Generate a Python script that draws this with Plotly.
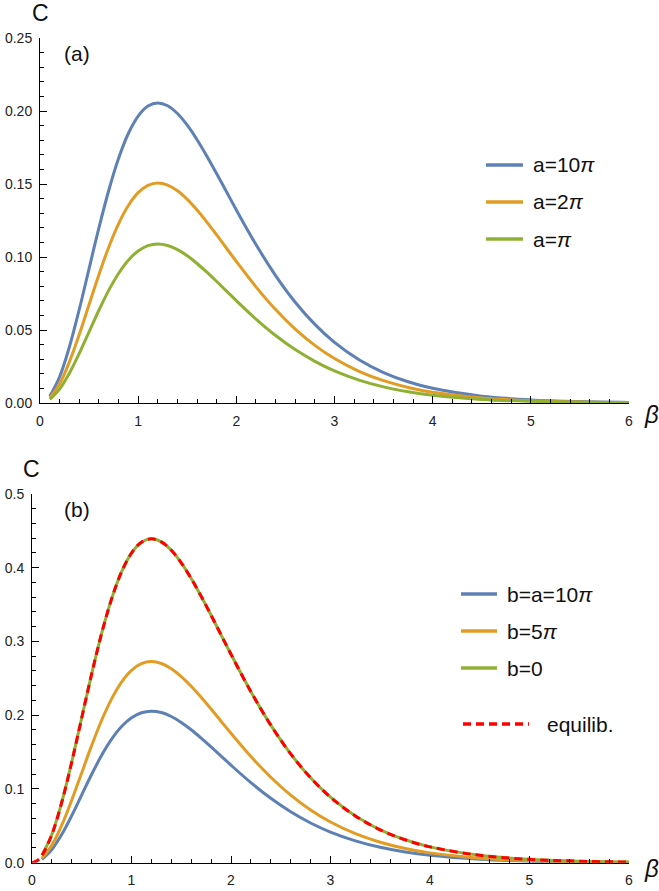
import plotly.graph_objects as go

# ---------------- data ----------------
beta = [0.1, 0.2, 0.3, 0.4, 0.5, 0.6, 0.7, 0.8, 0.9, 1.0,
        1.1, 1.2, 1.3, 1.4, 1.5, 1.6, 1.7, 1.8, 1.9, 2.0,
        2.2, 2.4, 2.6, 2.8, 3.0, 3.25, 3.5, 3.75, 4.0, 4.5, 5.0, 5.5, 6.0]

# panel (a)
c_a_10pi = [0.00463, 0.01799, 0.03854, 0.06407, 0.09201, 0.11989, 0.14556, 0.16745, 0.18458, 0.19655,
            0.20341, 0.20555, 0.20361, 0.19827, 0.19028, 0.18034, 0.16907, 0.15703, 0.14464, 0.13226,
            0.10856, 0.08730, 0.06905, 0.05387, 0.04155, 0.02964, 0.02087, 0.01455, 0.01004, 0.00468,
            0.00212, 0.00095, 0.00042]
c_a_2pi = [0.00340, 0.01318, 0.02825, 0.04696, 0.06744, 0.08787, 0.10668, 0.12273, 0.13528, 0.14405,
           0.14908, 0.15065, 0.14923, 0.14532, 0.13946, 0.13217, 0.12392, 0.11509, 0.10600, 0.09693,
           0.07956, 0.06398, 0.05061, 0.03948, 0.03045, 0.02172, 0.01530, 0.01066, 0.00736, 0.00343,
           0.00156, 0.00069, 0.00031]
c_a_pi = [0.00246, 0.00953, 0.02043, 0.03395, 0.04876, 0.06353, 0.07713, 0.08873, 0.09781, 0.10415,
          0.10779, 0.10893, 0.10789, 0.10507, 0.10083, 0.09556, 0.08960, 0.08321, 0.07664, 0.07008,
          0.05753, 0.04626, 0.03659, 0.02855, 0.02202, 0.01571, 0.01106, 0.00771, 0.00532, 0.00248,
          0.00113, 0.00050, 0.00022]

# panel (b)
c_b_10pi = c_a_10pi
c_b_5pi = [0.00615, 0.02387, 0.05115, 0.08501, 0.12209, 0.15908, 0.19314, 0.22219, 0.24493, 0.26080,
           0.26991, 0.27276, 0.27017, 0.26309, 0.25249, 0.23930, 0.22435, 0.20836, 0.19192, 0.17549,
           0.14405, 0.11584, 0.09162, 0.07148, 0.05514, 0.03933, 0.02770, 0.01930, 0.01333, 0.00620,
           0.00282, 0.00125, 0.00055]
c_b_0 = [0.00990, 0.03844, 0.08236, 0.13690, 0.19661, 0.25617, 0.31102, 0.35780, 0.39441, 0.41997,
         0.43464, 0.43922, 0.43506, 0.42366, 0.40659, 0.38534, 0.36127, 0.33553, 0.30905, 0.28260,
         0.23196, 0.18653, 0.14754, 0.11511, 0.08879, 0.06333, 0.04460, 0.03108, 0.02146, 0.00999,
         0.00454, 0.00202, 0.00089]
beta_eq = [0.0, 0.05] + beta
c_equilib = [0.0, 0.00249] + c_b_0

names_a = ["a=10<i>π</i>", "a=2<i>π</i>", "a=<i>π</i>"]
names_b = ["b=a=10<i>π</i>", "b=5<i>π</i>", "b=0"]
name_eq = "equilib."

x_ticks = [0, 1, 2, 3, 4, 5, 6]
y_ticks_a = [0.00, 0.05, 0.10, 0.15, 0.20, 0.25]
y_ticks_b = [0.0, 0.1, 0.2, 0.3, 0.4, 0.5]

# ---------------- style ----------------
W, H = 659, 891
BLUE, ORANGE, GREEN, RED = "#5E81B5", "#E19C24", "#8FB032", "#FF0000"
FONT = "Liberation Sans, Arial, sans-serif"
DASH = "8px,5px"


def px(x):
    return x / W


def py(y):
    return 1 - y / H


fig = go.Figure()

for ys, nm, col in zip([c_a_10pi, c_a_2pi, c_a_pi], names_a, [BLUE, ORANGE, GREEN]):
    fig.add_trace(go.Scatter(x=beta, y=ys, name=nm, mode="lines",
                             line=dict(color=col, width=3, shape="spline"),
                             xaxis="x", yaxis="y"))

for ys, nm, col in zip([c_b_10pi, c_b_5pi, c_b_0], names_b, [BLUE, ORANGE, GREEN]):
    fig.add_trace(go.Scatter(x=beta, y=ys, name=nm, mode="lines",
                             line=dict(color=col, width=3, shape="spline"),
                             xaxis="x2", yaxis="y2"))

fig.add_trace(go.Scatter(x=beta_eq, y=c_equilib, name=name_eq, mode="lines",
                         line=dict(color=RED, width=3, dash=DASH, shape="spline"),
                         xaxis="x2", yaxis="y2"))

axis_common = dict(showgrid=False, zeroline=False, showline=True, linecolor="black", linewidth=1,
                   ticks="inside", ticklen=7, tickwidth=1, tickcolor="black", automargin=False,
                   tickfont=dict(family=FONT, size=14, color="#222"), fixedrange=True)

fig.update_layout(
    width=W, height=H, margin=dict(l=0, r=0, t=0, b=0, pad=0, autoexpand=False),
    paper_bgcolor="white", plot_bgcolor="white",
    font=dict(family=FONT, color="#111"),
    showlegend=False,
    xaxis=dict(domain=[px(40), px(629)], range=[0, 6], anchor="y",
               tickvals=x_ticks, ticklabelstandoff=5,
               minor=dict(dtick=0.2, ticklen=4, ticks="inside", tickcolor="black"), **axis_common),
    yaxis=dict(domain=[py(403), py(38)], range=[0, 0.25], anchor="x",
               tickvals=y_ticks_a, tickformat=".2f", ticklabelstandoff=4,
               minor=dict(dtick=0.01, ticklen=4, ticks="inside", tickcolor="black"), **axis_common),
    xaxis2=dict(domain=[px(32), px(629)], range=[0, 6], anchor="y2",
                tickvals=x_ticks, ticklabelstandoff=4,
                minor=dict(dtick=0.2, ticklen=4, ticks="inside", tickcolor="black"), **axis_common),
    yaxis2=dict(domain=[py(862.7), py(494)], range=[0, 0.5], anchor="x2",
                tickvals=y_ticks_b, tickformat=".1f", ticklabelstandoff=4,
                minor=dict(dtick=0.02, ticklen=4, ticks="inside", tickcolor="black"), **axis_common),
)

# ---- legends (swatch + label), placed as in the reference ----
legend_rows = [
    # (label, colour, dash, y, x0, x1, text_x)
    (names_a[0], BLUE, "solid", 165, 486, 523, 533),
    (names_a[1], ORANGE, "solid", 202, 486, 523, 533),
    (names_a[2], GREEN, "solid", 239, 486, 523, 533),
    (names_b[0], BLUE, "solid", 594, 461, 497, 507),
    (names_b[1], ORANGE, "solid", 631, 461, 497, 507),
    (names_b[2], GREEN, "solid", 668, 461, 497, 507),
    (name_eq, RED, DASH, 724, 463, 529, 547),
]
for lab, col, dsh, y, x0, x1, tx in legend_rows:
    fig.add_shape(type="line", xref="paper", yref="paper", x0=px(x0), x1=px(x1), y0=py(y), y1=py(y),
                  line=dict(color=col, width=3.5, dash=dsh))
    fig.add_annotation(xref="paper", yref="paper", showarrow=False, xanchor="left", yanchor="middle",
                       x=px(tx - 2), y=py(y), text=lab,
                       font=dict(family=FONT, size=21, color="#111"))

ann = [
    dict(text="C", x=px(40), y=py(13), size=23),
    dict(text="(a)", x=px(77), y=py(54), size=21),
    dict(text="<i>β</i>", x=px(651), y=py(414), size=24),
    dict(text="C", x=px(31.5), y=py(468.5), size=23),
    dict(text="(b)", x=px(77), y=py(509.5), size=21),
    dict(text="<i>β</i>", x=px(651), y=py(868), size=24),
]
for a in ann:
    fig.add_annotation(xref="paper", yref="paper", showarrow=False, xanchor="center", yanchor="middle",
                       x=a["x"], y=a["y"], text=a["text"],
                       font=dict(family=FONT, size=a["size"], color="#111"))

fig.write_html("out.html", config={"displayModeBar": False},
               post_script="document.body.style.margin='0px';document.body.style.overflow='hidden';")
